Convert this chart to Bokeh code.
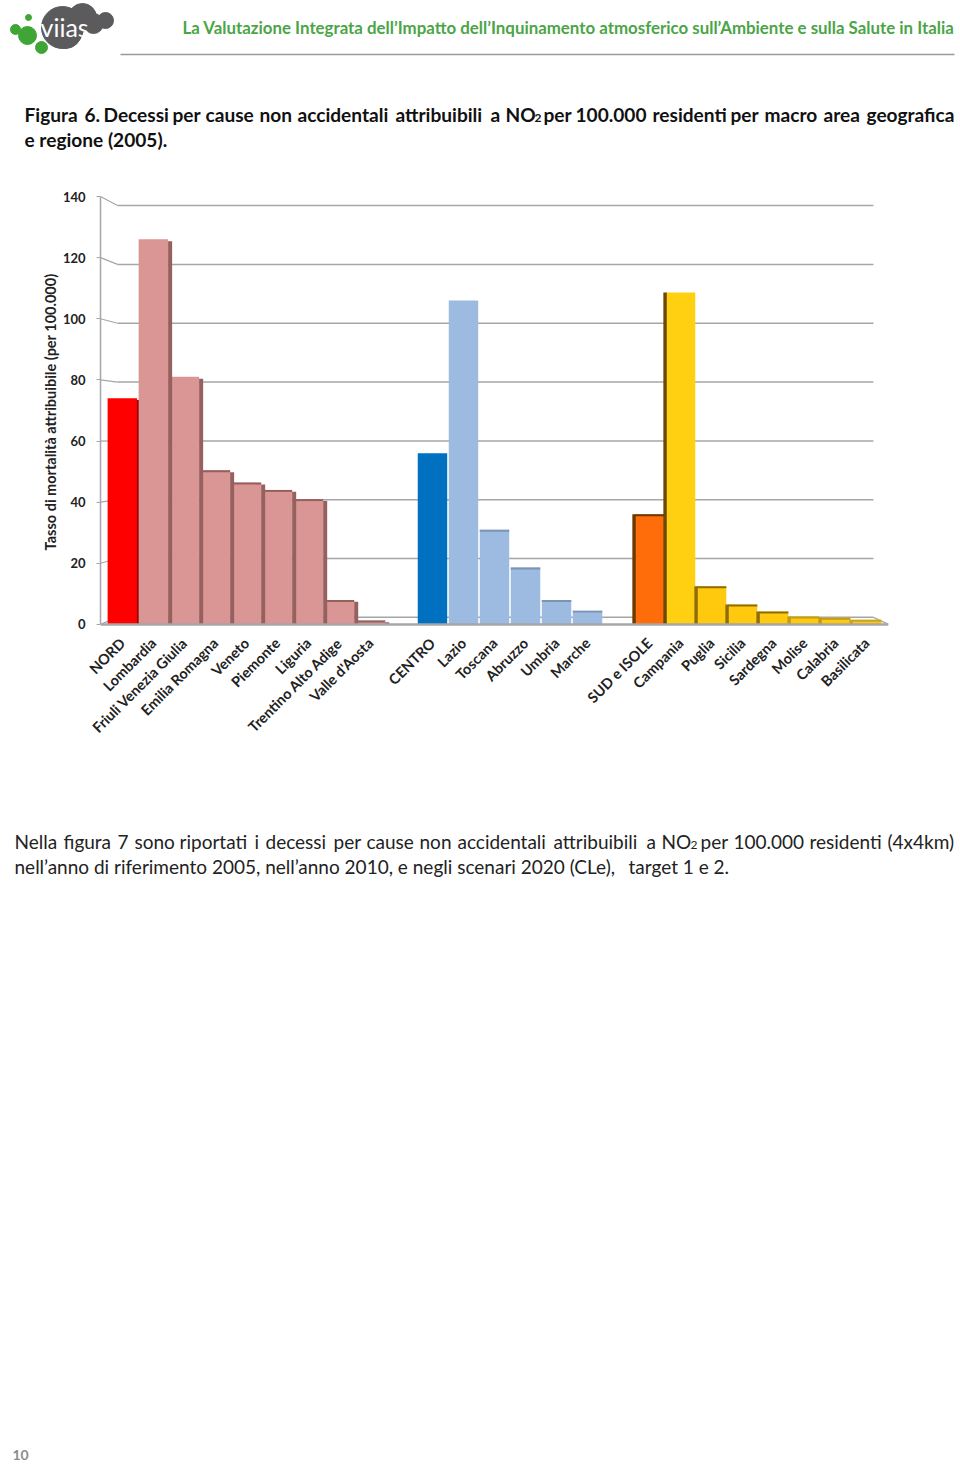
from bokeh.plotting import figure
from bokeh.layouts import column
from bokeh.models import Range1d, FactorRange, FixedTicker, ColumnDataSource
from bokeh.core.properties import value
from bokeh.transform import dodge
from bokeh.embed import file_html
from bokeh.resources import INLINE
import math

# ---------- data ----------
nord_regions = ["NORD", "Lombardia", "Friuli Venezia Giulia", "Emilia Romagna", "Veneto",
                "Piemonte", "Liguria", "Trentino Alto Adige", "Valle d'Aosta"]
nord_values = [74, 126, 81, 50.4, 46.4, 44, 41, 8, 1.3]
centro_regions = ["CENTRO", "Lazio", "Toscana", "Abruzzo", "Umbria", "Marche"]
centro_values = [56, 106, 31, 18.6, 8, 4.5]
sud_regions = ["SUD e ISOLE", "Campania", "Puglia", "Sicilia", "Sardegna", "Molise", "Calabria", "Basilicata"]
sud_values = [36, 108.6, 12.5, 6.5, 4.2, 2.6, 2.2, 1.5]
y_ticks = [0, 20, 40, 60, 80, 100, 120, 140]
y_label = "Tasso di mortalità attribuibile (per 100.000)"

header_text = "La Valutazione Integrata dell’Impatto dell’Inquinamento atmosferico sull’Ambiente e sulla Salute in Italia"
title_words = ["Figura", "6.", "Decessi", "per", "cause", "non", "accidentali", "attribuibili", "a", "NO",
               "per", "100.000", "residenti", "per", "macro", "area", "geografica"]
title_x = [24, 84, 103, 172, 205, 259, 297, 395, 490, 505, 543, 575, 652, 730, 764, 823, 866]
body_words = ["Nella", "figura", "7", "sono", "riportati", "i", "decessi", "per", "cause", "non", "accidentali",
              "attribuibili", "a", "NO", "per", "100.000", "residenti", "(4x4km)"]
body_x = [14, 63, 117, 134, 179, 254, 265, 333, 366, 419, 457, 553, 646, 661, 700, 733, 809, 887]

FONT = value("Lato")
GRAY = "#A6A6A6"

# ---------- header ----------
head = figure(width=960, height=170, output_backend="svg", toolbar_location=None,
              x_range=Range1d(0, 960), y_range=Range1d(170, 0), frame_align=False,
              min_border=0, outline_line_color=None)
head.axis.visible = False
head.grid.visible = False
# logo
head.circle([62, 65, 82, 93, 105], [27, 32, 17, 23, 20], radius=[21, 16, 14, 10, 8], color="#5B5A5C")
head.circle([27, 15, 28, 41], [35, 29, 17, 47], radius=[9, 5, 3, 6], color="#3FA535")
head.text([40], [26], text=["viias"], text_color="white", text_font=value("Lato"),
          text_font_size="25px", text_baseline="alphabetic")
head.text([182], [27], text=[header_text], text_color="#4BA547", text_font=FONT, text_font_style="bold",
          text_font_size="16.87px", text_baseline="alphabetic")
head.segment([120], [54], [954], [54], line_color="#9A9A9A", line_width=1.5)
head.text(title_x, [114] * len(title_x), text=title_words, text_color="#111111", text_font=FONT,
          text_font_style="bold", text_font_size="19.1px", text_baseline="alphabetic")
head.text([534], [117], text=["2"], text_color="#111111", text_font=FONT, text_font_style="bold",
          text_font_size="12px", text_baseline="alphabetic")
head.text([24], [139], text=["e regione (2005)."], text_color="#111111", text_font=FONT,
          text_font_style="bold", text_font_size="19.1px", text_baseline="alphabetic")

# ---------- chart ----------
factors = nord_regions + [" "] + centro_regions + ["  "] + sud_regions
values = nord_values + centro_values + sud_values
names = nord_regions + centro_regions + sud_regions

p = figure(width=960, height=590, output_backend="svg", toolbar_location=None,
           x_range=FactorRange(factors=factors, range_padding=0.205, range_padding_units="absolute"),
           y_range=Range1d(-2, 141), frame_align=False,
           min_border_left=100, min_border_right=72, min_border_top=23, min_border_bottom=130,
           outline_line_color=None, background_fill_color="white")
p.grid.visible = False

# back wall: the gridlines stand behind the bars, a little lower and narrower than the axis scale
# (x positions are in the factor range's own slot units)
AXIS_X, WALL_L, WALL_R, WALL_END = -0.205, 0.343, 24.72, 25.205
back = [2.3 + t * 0.9625 for t in y_ticks]
p.segment(x0=[WALL_L] * len(back), y0=back, x1=[WALL_R] * len(back), y1=back,
          line_color=GRAY, line_width=1.5)
p.segment(x0=[AXIS_X] * len(back), y0=y_ticks, x1=[WALL_L] * len(back), y1=back,
          line_color=GRAY, line_width=1.2)
p.segment(x0=[WALL_R], y0=[back[0]], x1=[WALL_END], y1=[0], line_color=GRAY, line_width=1.5)

# bars
front = {}
for n in names:
    front[n] = "#DA9694"
for n in centro_regions:
    front[n] = "#9DBBE0"
for n in sud_regions:
    front[n] = "#FFC90E"
front["NORD"] = "#FF0000"
front["CENTRO"] = "#0070C0"
front["SUD e ISOLE"] = "#FF6D0A"
front["Campania"] = "#FFD012"

shade = {}
for n in nord_regions:
    shade[n] = "#96605E"
for n in centro_regions:
    shade[n] = "#7C93B2"
for n in sud_regions:
    shade[n] = "#8F6C08"
shade["NORD"] = "#8A0000"
shade["SUD e ISOLE"] = "#6B3A00"
shade["Campania"] = "#6B4A00"
shade["Molise"] = "#C09A18"
shade["Calabria"] = "#C09A18"
shade["Basilicata"] = "#C9A227"

no_band = {"NORD", "Lombardia", "Friuli Venezia Giulia", "CENTRO", "Lazio", "Campania"}
src = ColumnDataSource(dict(x=names, top=values, color=[front[n] for n in names], shade=[shade[n] for n in names]))

# the NORD bar's dark edge only shows in the gap beside it, so it goes behind the fronts
p.vbar(x=dodge("x", 0.5, range=p.x_range),
       top=nord_values[0] - 0.6, bottom=0, width=0.1,
       source=ColumnDataSource(dict(x=nord_regions[:1])), fill_color=shade["NORD"], line_color=None)
p.vbar(x="x", top="top", bottom=0, width=0.95, source=src, fill_color="color", line_color=None)

# side walls: on the right in the north group, on the left in the south group
nord_src = ColumnDataSource(dict(x=nord_regions[1:], top=[v - 0.6 for v in nord_values[1:]],
                                 shade=[shade[n] for n in nord_regions[1:]]))
sud_src = ColumnDataSource(dict(x=sud_regions, top=[v for v in sud_values],
                                shade=[shade[n] for n in sud_regions]))
p.vbar(x=dodge("x", 0.54, range=p.x_range), top="top", bottom=0, width=0.13, source=nord_src,
       fill_color="shade", line_color=None)
p.vbar(x=dodge("x", -0.5, range=p.x_range), top="top", bottom=0, width=0.11, source=sud_src,
       fill_color="shade", line_color=None)

band_names = [n for n in names if n not in no_band]
band_vals = [values[names.index(n)] for n in band_names]
p.vbar(x=band_names, top=band_vals, bottom=[max(v - 0.65, 0) for v in band_vals], width=0.95,
       color=[shade[n] for n in band_names], line_color=None)

# floor edge, in front of the bars
p.segment(x0=[AXIS_X], y0=[0], x1=[WALL_END], y1=[0], line_color=GRAY, line_width=2.5)

yax = p.yaxis[0]
yax.ticker = FixedTicker(ticks=y_ticks)
yax.bounds = (0, 140)
yax.axis_line_color = GRAY
yax.axis_line_width = 1.5
yax.major_tick_line_color = GRAY
yax.major_tick_in = 0
yax.major_tick_out = 4
yax.minor_tick_line_color = None
yax.major_label_standoff = 11
yax.major_label_text_font = "Lato"
yax.major_label_text_font_style = "bold"
yax.major_label_text_font_size = "13px"
yax.major_label_text_color = "#222222"
yax.axis_label = y_label
yax.axis_label_text_font = "Lato"
yax.axis_label_text_font_style = "bold"
yax.axis_label_text_font_size = "14.5px"
yax.axis_label_text_color = "#222222"
yax.axis_label_standoff = 1

xax = p.xaxis[0]
xax.axis_line_color = None
xax.major_tick_line_color = None
xax.minor_tick_line_color = None
xax.major_label_orientation = math.pi / 4
xax.major_label_standoff = 4
xax.major_label_text_font = "Lato"
xax.major_label_text_font_style = "bold"
xax.major_label_text_font_size = "14.5px"
xax.major_label_text_color = "#222222"

# ---------- body text and footer ----------
foot = figure(width=960, height=704, output_backend="svg", toolbar_location=None,
              x_range=Range1d(0, 960), y_range=Range1d(1464, 760), frame_align=False,
              min_border=0, outline_line_color=None)
foot.axis.visible = False
foot.grid.visible = False
foot.text(body_x, [841] * len(body_x), text=body_words, text_color="#222222", text_font=FONT,
          text_font_size="19px", text_baseline="alphabetic")
foot.text([690], [844], text=["2"], text_color="#222222", text_font=FONT, text_font_size="12px",
          text_baseline="alphabetic")
foot.text([14, 628], [866, 866], text=["nell’anno di riferimento 2005, nell’anno 2010, e negli scenari 2020 (CLe),", "target 1 e 2."],
          text_color="#222222", text_font=FONT, text_font_size="19px", text_baseline="alphabetic")
foot.text([12], [1454], text=["10"], text_color="#8C8C8C", text_font=FONT, text_font_style="bold",
          text_font_size="14px", text_baseline="alphabetic")

open("out.html", "w").write(file_html(column(head, p, foot, spacing=0), INLINE))
